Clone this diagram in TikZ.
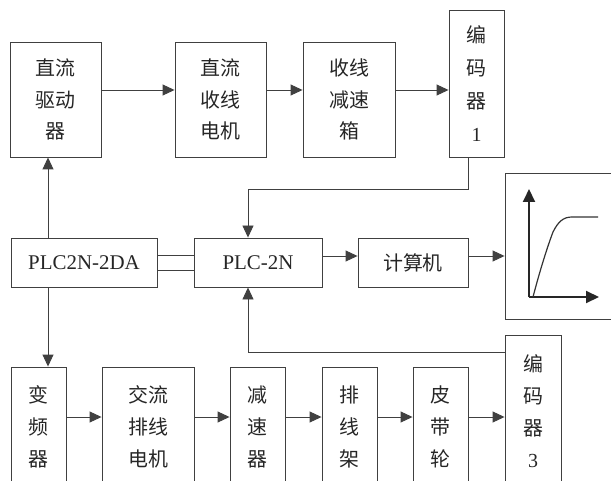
\documentclass[tikz,border=0pt]{standalone}
\usepackage{fontspec}
\setmainfont{Liberation Serif}
\newfontfamily\cjk{Noto Sans CJK SC}
\usetikzlibrary{arrows.meta}
\tikzset{
  box/.style={draw=black!75, line width=0.9bp, inner sep=0pt, align=center, text=black!85,
              font=\cjk\fontsize{20}{32}\selectfont},
  lbox/.style={box, font=\rmfamily\fontsize{21}{25}\selectfont},
  conn/.style={draw=black!75, line width=0.9bp},
  arr/.style={conn, -{Triangle[length=12bp,width=11bp]}},
  axis/.style={draw=black!85, line width=2bp, -{Triangle[length=13bp,width=12bp]}},
}
\begin{document}
\begin{tikzpicture}[x=1bp,y=-1bp]
\useasboundingbox (0,0) rectangle (611,481);
\clip (0,0) rectangle (611,481);
% top row
\node[box, minimum width=91bp, minimum height=115bp] (drv) at (55.5,99.5) {直流\\驱动\\器};
\node[box, minimum width=91bp, minimum height=115bp] (dcm) at (220.5,99.5) {直流\\收线\\电机};
\node[box, minimum width=92bp, minimum height=115bp] (red1) at (349,99.5) {收线\\减速\\箱};
\node[box, minimum width=55bp, minimum height=147bp, font=\cjk\fontsize{20}{33}\selectfont] (enc1) at (476.5,83.5) {编\\码\\器\\{\rmfamily 1}};
% middle row
\node[lbox, minimum width=146bp, minimum height=49bp] (plcda) at (84,262.5) {PLC2N-2DA};
\node[lbox, minimum width=128bp, minimum height=49bp] (plc) at (258,262.5) {PLC-2N};
\node[box, minimum width=110bp, minimum height=49bp] (pc) at (413,262.5) {计算机};
\node[box, minimum width=110bp, minimum height=146bp] (graph) at (560,246) {};
% bottom row
\node[box, minimum width=55bp, minimum height=120bp] (vfd) at (38.5,427) {变\\频\\器};
\node[box, minimum width=92bp, minimum height=120bp] (acm) at (148,427) {交流\\排线\\电机};
\node[box, minimum width=55bp, minimum height=120bp] (red2) at (257.5,427) {减\\速\\器};
\node[box, minimum width=55bp, minimum height=120bp] (rack) at (349.5,427) {排\\线\\架};
\node[box, minimum width=55bp, minimum height=120bp] (pul) at (440.5,427) {皮\\带\\轮};
\node[box, minimum width=56bp, minimum height=152bp, font=\cjk\fontsize{20}{32}\selectfont] (enc3) at (533,411) {编\\码\\器\\{\rmfamily 3}};
% helper coordinates
\coordinate (ytop) at (0,90);
\coordinate (ybot) at (0,417);
\coordinate (ymid) at (0,256);
\coordinate (yd1) at (0,255);
\coordinate (yd2) at (0,270);
\coordinate (xl) at (48,0);
\coordinate (xe1) at (468,0);
\coordinate (fb1) at (248,189);
\coordinate (fb3) at (248,352);
% top arrows
\draw[arr] (drv.east |- ytop) -- (dcm.west |- ytop);
\draw[arr] (dcm.east |- ytop) -- (red1.west |- ytop);
\draw[arr] (red1.east |- ytop) -- (enc1.west |- ytop);
% vertical from PLC2N-2DA
\draw[arr] (plcda.north -| xl) -- (drv.south -| xl);
\draw[arr] (plcda.south -| xl) -- (vfd.north -| xl);
% double link
\draw[conn] (plcda.east |- yd1) -- (plc.west |- yd1);
\draw[conn] (plcda.east |- yd2) -- (plc.west |- yd2);
% middle arrows
\draw[arr] (plc.east |- ymid) -- (pc.west |- ymid);
\draw[arr] (pc.east |- ymid) -- (graph.west |- ymid);
% feedback
\draw[arr] (enc1.south -| xe1) |- (fb1) -- (plc.north -| fb1);
\draw[arr] (enc3.west |- fb3) -- (fb3) -- (plc.south -| fb3);
% bottom arrows
\draw[arr] (vfd.east |- ybot) -- (acm.west |- ybot);
\draw[arr] (acm.east |- ybot) -- (red2.west |- ybot);
\draw[arr] (red2.east |- ybot) -- (rack.west |- ybot);
\draw[arr] (rack.east |- ybot) -- (pul.west |- ybot);
\draw[arr] (pul.east |- ybot) -- (enc3.west |- ybot);
% graph content
\coordinate (org) at (529,297);
\coordinate (yax) at (529,189);
\coordinate (xax) at (599,297);
\draw[axis] (org) -- (yax);
\draw[axis] (org) -- (xax);
\draw[draw=black!80, line width=1.2bp] (533,297) .. controls (540,270) and (548,245) .. (553,232)
   .. controls (558,222) and (563,217) .. (572,217) -- (598,217);
\end{tikzpicture}
\end{document}
